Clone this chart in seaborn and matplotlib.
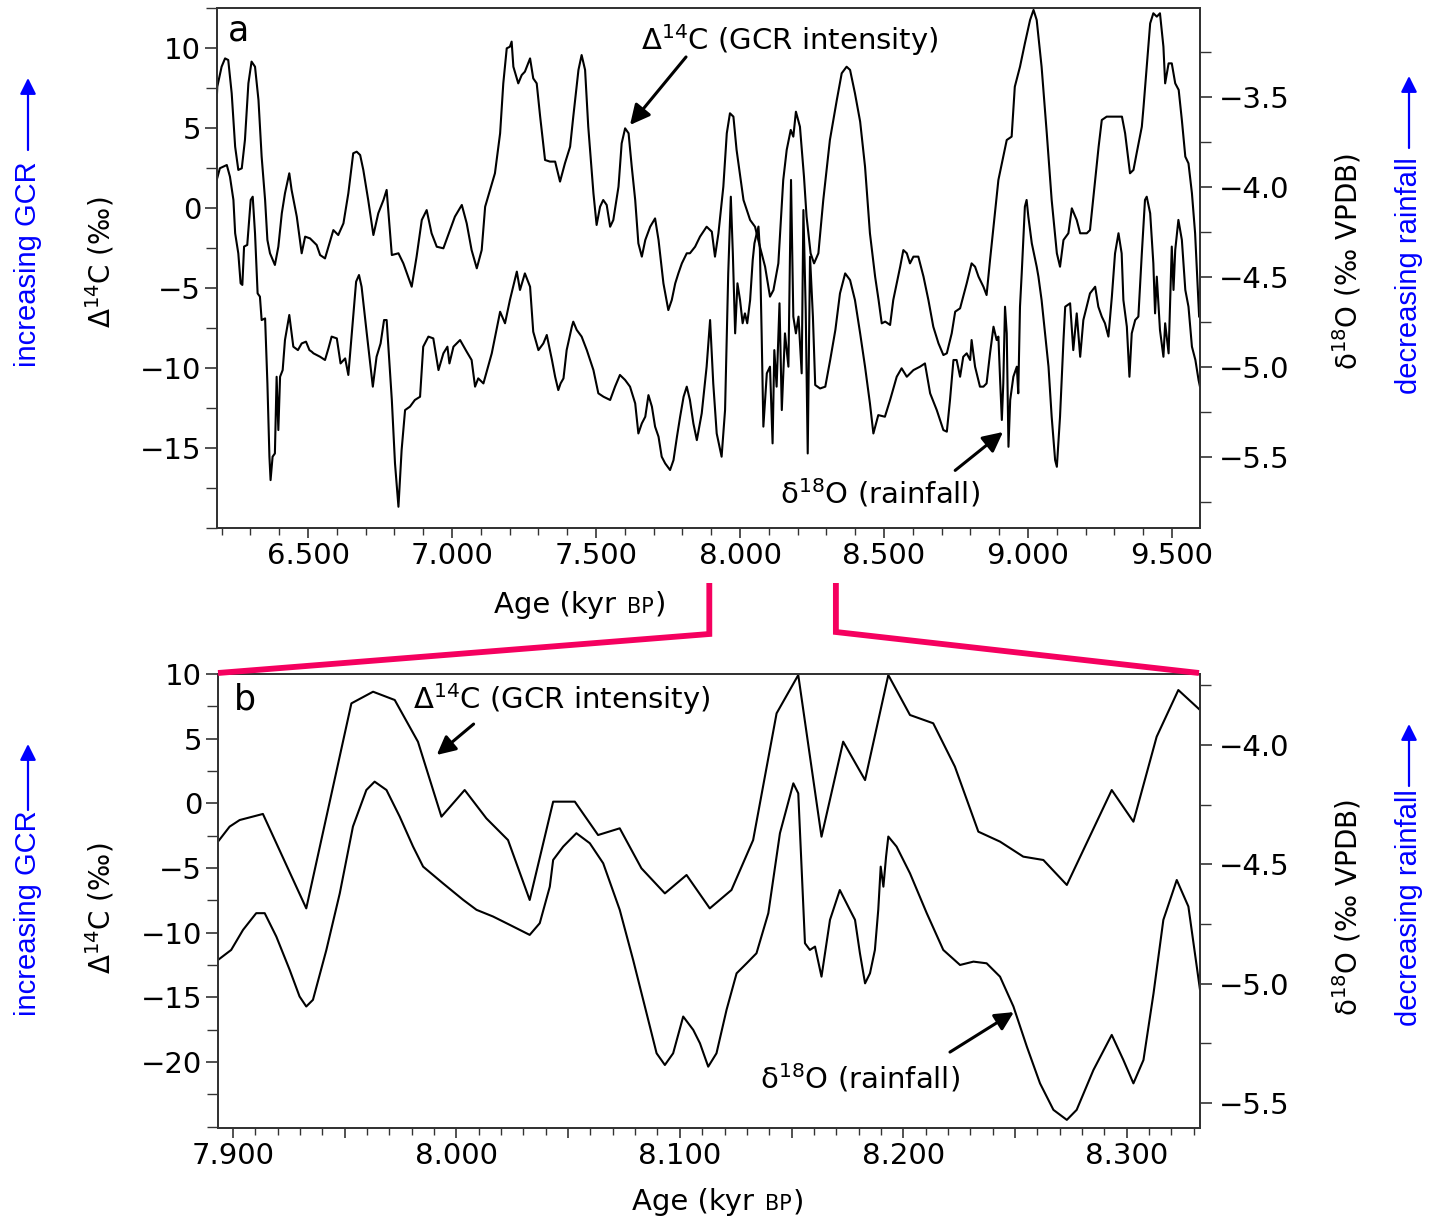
import matplotlib
matplotlib.use("Agg")
import matplotlib.pyplot as plt
import matplotlib.patches as mpatches
import pandas as pd
import seaborn as sns
from matplotlib.ticker import MultipleLocator, FixedLocator, FuncFormatter
from matplotlib.offsetbox import TextArea, HPacker, AnchoredOffsetbox
from matplotlib.lines import Line2D

# ---------------- panel a : 6.2 - 9.6 kyr BP ----------------
age_a_c14 = [6.183, 6.185, 6.200, 6.212, 6.223, 6.235, 6.247, 6.258, 6.270, 6.281, 6.293, 6.304, 6.316, 6.328, 6.339,
             6.351, 6.359, 6.368, 6.385, 6.397, 6.409, 6.420, 6.435, 6.443, 6.461, 6.478, 6.490, 6.507, 6.530, 6.542,
             6.559, 6.571, 6.588, 6.605, 6.623, 6.640, 6.657, 6.669, 6.681, 6.692, 6.709, 6.727, 6.744, 6.762, 6.773,
             6.791, 6.814, 6.831, 6.860, 6.877, 6.895, 6.912, 6.929, 6.947, 6.970, 6.993, 7.010, 7.034, 7.051, 7.068,
             7.086, 7.103, 7.115, 7.132, 7.149, 7.167, 7.178, 7.190, 7.201, 7.207, 7.213, 7.230, 7.242, 7.253, 7.271,
             7.282, 7.294, 7.306, 7.323, 7.340,
             7.358, 7.375, 7.392, 7.410, 7.421, 7.439, 7.450, 7.462, 7.473, 7.491, 7.502, 7.514, 7.525, 7.537, 7.549,
             7.560, 7.578, 7.589, 7.601, 7.613, 7.624, 7.636, 7.647, 7.659, 7.671, 7.688, 7.705, 7.717, 7.734, 7.751,
             7.763, 7.775, 7.786, 7.798, 7.815, 7.826, 7.844, 7.861, 7.884, 7.902, 7.913, 7.925, 7.942, 7.954, 7.965,
             7.977, 7.988, 8.012, 8.035, 8.052, 8.069, 8.087, 8.104, 8.116, 8.133, 8.150, 8.162, 8.176, 8.185, 8.194,
             8.208, 8.222, 8.231, 8.245, 8.257, 8.272, 8.289, 8.312, 8.336, 8.353, 8.370, 8.382, 8.399, 8.417,
             8.434, 8.451, 8.469, 8.481, 8.492, 8.504, 8.521, 8.532, 8.544, 8.556, 8.567, 8.579, 8.590, 8.602, 8.619,
             8.637, 8.654, 8.671, 8.689, 8.706, 8.718, 8.735, 8.747, 8.764, 8.787, 8.804, 8.816, 8.828, 8.845, 8.856,
             8.868, 8.885, 8.897, 8.914, 8.926, 8.943, 8.954, 8.972, 8.989, 9.007, 9.019, 9.030, 9.047, 9.065, 9.082,
             9.100, 9.111, 9.123, 9.140, 9.152, 9.169, 9.181, 9.204, 9.215, 9.227, 9.245, 9.256, 9.273, 9.297, 9.326,
             9.337, 9.354, 9.366, 9.377, 9.395, 9.401, 9.412, 9.424, 9.435, 9.447, 9.458, 9.470, 9.476, 9.488, 9.499,
             9.511, 9.523, 9.534, 9.546, 9.557, 9.569, 9.580, 9.594]
c14_a = [6.75, 7.58, 8.83, 9.35, 9.25, 7.17, 3.83, 2.38, 2.48, 4.25, 7.79, 9.15, 8.83, 6.75, 3.21,
         0.5, -2.0, -2.83, -3.56, -2.42, -0.33, 0.92, 2.17, 1.13, -0.54, -2.83, -1.79, -1.9, -2.31, -2.94,
         -3.15, -2.42, -1.38, -1.69, -0.96, 0.92, 3.42, 3.52, 3.31, 2.38, 0.5, -1.69, -0.33, 0.5, 1.13,
         -2.94, -2.83, -3.46, -4.92, -3.04, -0.75, -0.13, -1.58, -2.42, -2.52, -1.38, -0.54, 0.19, -0.96, -2.63,
         -3.77, -2.63, 0.08, 1.13, 2.17, 4.67, 7.79, 9.98, 10.08, 10.4, 8.83, 7.79, 8.31, 8.52, 9.35,
         8.1, 7.79, 5.71, 3.0, 2.9,
         2.90, 1.65, 2.79, 3.83, 5.71, 8.63, 9.56, 8.63, 5.08, 0.92, -1.06, 0.08, 0.5, 0.19, -1.17,
         -0.75, 1.33, 4.04, 4.98, 4.67, 2.58, 0.5, -2.21, -3.04, -2.0, -1.17, -0.65, -2.0, -4.71, -6.38,
         -5.75, -4.71, -4.08, -3.46, -2.83, -2.83, -2.42, -1.79, -1.17, -1.48, -3.04, -1.58, 1.33, 4.67, 5.92,
         5.71, 3.63, 0.5, -0.75, -1.17, -2.42, -3.67, -5.54, -5.13, -3.46, 1.75, 3.63, 4.88, 4.46, 6.02,
         5.08, 1.96, -0.54, -2.83, -3.46, -2.83, 0.5, 4.25, 6.75, 8.42, 8.83, 8.63, 7.17, 5.4,
         2.58, -1.58, -4.29, -5.75, -7.21, -7.10, -7.31, -5.75, -4.71, -3.67, -2.63, -2.83, -3.46, -3.04, -3.04,
         -4.29, -5.75, -7.42, -8.46, -9.19, -9.08, -7.83, -6.48, -6.27, -4.71, -3.46, -3.67, -4.29, -4.92, -5.44,
         -3.25, -0.33, 1.75, 3.21, 4.25, 4.46, 7.58, 8.83, 10.29, 11.75, 12.38, 11.75, 8.83, 4.67, 0.5,
         -2.83, -3.67, -2.0, -1.58, -0.02, -0.75, -1.58, -1.58, -1.38, 0.71, 3.83, 5.5, 5.71, 5.71, 5.71,
         4.67, 2.17, 2.38, 3.42, 5.08, 6.33, 8.83, 11.54, 12.17, 11.96, 12.17, 10.08, 7.79, 9.04, 9.04,
         7.79, 7.38, 5.5, 3.21, 2.79, 0.92, -1.58, -6.8]

age_a_o18 = [6.183, 6.194, 6.218, 6.229, 6.241, 6.247, 6.258, 6.266, 6.272, 6.278, 6.289, 6.301, 6.308, 6.316, 6.325,
             6.333, 6.339, 6.351, 6.359, 6.366, 6.370, 6.377, 6.385, 6.391, 6.397, 6.403, 6.412, 6.420, 6.435, 6.449,
             6.465, 6.478, 6.493, 6.505, 6.513, 6.519, 6.542, 6.559, 6.571, 6.582, 6.600, 6.613, 6.629, 6.640, 6.652,
             6.667, 6.677, 6.686, 6.704, 6.725, 6.738, 6.752, 6.764, 6.773, 6.791, 6.802, 6.814, 6.825, 6.837, 6.854,
             6.871, 6.889, 6.900, 6.918, 6.935, 6.953, 6.970, 6.984, 6.991, 7.005, 7.028, 7.051, 7.068, 7.080, 7.091,
             7.109, 7.138, 7.167, 7.184, 7.201, 7.225, 7.236, 7.253, 7.271, 7.282, 7.300,
             7.317, 7.329, 7.347, 7.358, 7.369, 7.377, 7.387, 7.398, 7.416, 7.421, 7.433, 7.450, 7.468, 7.491, 7.508,
             7.526, 7.549, 7.566, 7.583, 7.601, 7.618, 7.636, 7.647, 7.659, 7.671, 7.682, 7.694, 7.705, 7.717, 7.728,
             7.740, 7.757, 7.769, 7.781, 7.792, 7.804, 7.815, 7.826, 7.838, 7.850, 7.867, 7.884, 7.896, 7.907, 7.919,
             7.936, 7.948, 7.959, 7.968, 7.975, 7.983, 7.991, 8.000, 8.009, 8.017, 8.025, 8.035, 8.044, 8.050, 8.058,
             8.064, 8.069, 8.075, 8.081, 8.093, 8.104, 8.113, 8.119, 8.127, 8.137, 8.145, 8.156, 8.168, 8.177, 8.185,
             8.194, 8.203, 8.214, 8.220, 8.228, 8.235, 8.243, 8.253, 8.261, 8.278, 8.296, 8.313, 8.331, 8.347, 8.365,
             8.382, 8.399, 8.417, 8.434, 8.451,
             8.463, 8.480, 8.503, 8.521, 8.544, 8.561, 8.579, 8.602, 8.625, 8.642, 8.660, 8.683, 8.706, 8.718, 8.729,
             8.741, 8.752, 8.764, 8.775, 8.787, 8.799, 8.804, 8.816, 8.833, 8.845, 8.856, 8.868, 8.880, 8.891, 8.897,
             8.903, 8.909, 8.914, 8.920, 8.926, 8.932, 8.938, 8.949, 8.961, 8.966, 8.972, 8.978, 8.989, 8.995, 9.001,
             9.013, 9.030, 9.036, 9.047, 9.059, 9.071, 9.082, 9.094, 9.100, 9.111, 9.123, 9.129, 9.146, 9.157, 9.169,
             9.181, 9.192, 9.215, 9.233, 9.244, 9.256, 9.267, 9.279, 9.291, 9.302, 9.314, 9.325, 9.331, 9.343, 9.352,
             9.360, 9.372, 9.383, 9.395, 9.406, 9.412, 9.424, 9.435, 9.441, 9.447, 9.458, 9.470, 9.476, 9.488, 9.499,
             9.505, 9.511, 9.522, 9.534, 9.546, 9.557, 9.569, 9.581, 9.592, 9.597]
o18_a = [-3.961, -3.896, -3.878, -3.943, -4.072, -4.257, -4.369, -4.535, -4.544, -4.331, -4.322, -4.072, -4.054, -4.257, -4.591,
         -4.609, -4.739, -4.730, -5.091, -5.498, -5.628, -5.498, -5.480, -5.054, -5.35, -5.054, -5.017, -4.85, -4.711, -4.887,
         -4.906, -4.869, -4.859, -4.906, -4.915, -4.924, -4.943, -4.961, -4.896, -4.831, -4.841, -4.980, -4.952, -5.044, -4.813,
         -4.526, -4.489, -4.554, -4.813, -5.109, -4.943, -4.869, -4.739, -4.739, -5.183, -5.535, -5.776, -5.461, -5.239, -5.220,
         -5.183, -5.165, -4.887, -4.831, -4.841, -5.017, -4.924, -4.887, -4.980, -4.887, -4.85, -4.915, -4.961, -5.109, -5.063,
         -5.091, -4.924, -4.693, -4.757, -4.628, -4.470, -4.572, -4.480, -4.554, -4.804, -4.906,
         -4.869, -4.822, -4.961, -5.054, -5.128, -5.091, -5.063, -4.906, -4.776, -4.748, -4.794, -4.831, -4.906, -5.017, -5.146,
         -5.165, -5.183, -5.109, -5.044, -5.072, -5.109, -5.202, -5.369, -5.313, -5.276, -5.156, -5.220, -5.331, -5.387, -5.498,
         -5.535, -5.572, -5.517, -5.387, -5.276, -5.165, -5.109, -5.183, -5.313, -5.406, -5.257, -4.998, -4.739, -5.091, -5.369,
         -5.498, -5.239, -4.480, -4.054, -4.369, -4.813, -4.535, -4.628, -4.757, -4.702, -4.757, -4.628, -4.406, -4.313, -4.257,
         -4.220, -4.350, -4.813, -5.331, -5.035, -4.998, -5.424, -4.906, -5.109, -4.646, -5.239, -4.813, -4.998, -3.961, -4.720,
         -4.813, -4.720, -5.035, -4.128, -4.683, -5.480, -4.387, -4.720, -5.100, -5.119, -5.109, -4.961, -4.794, -4.591, -4.480,
         -4.517, -4.628, -4.813, -4.998, -5.202,
         -5.369, -5.267, -5.276, -5.183, -5.054, -5.007, -5.054, -5.017, -4.998, -4.980, -5.146, -5.239, -5.35, -5.359, -5.183,
         -4.961, -4.961, -5.054, -4.943, -4.924, -4.961, -4.85, -4.998, -5.109, -5.109, -5.091, -4.924, -4.776, -4.85, -4.831,
         -5.072, -5.294, -5.091, -4.665, -4.813, -5.443, -5.183, -5.054, -4.998, -5.146, -4.665, -4.48, -4.109, -4.072, -4.165,
         -4.313, -4.443, -4.498, -4.628, -4.813, -4.998, -5.276, -5.517, -5.554, -5.276, -4.85, -4.665, -4.646, -4.906, -4.702,
         -4.943, -4.739, -4.591, -4.554, -4.665, -4.72, -4.757, -4.831, -4.609, -4.369, -4.257, -4.369, -4.628, -4.776, -5.054,
         -4.813, -4.739, -4.72, -4.369, -4.072, -4.054, -4.146, -4.424, -4.702, -4.498, -4.794, -4.943, -4.757, -4.924, -4.331,
         -4.572, -4.35, -4.183, -4.294, -4.572, -4.665, -4.887, -4.961, -5.072, -5.11]

# ---------------- panel b : 7.89 - 8.33 kyr BP ----------------
age_b_c14 = [7.8933, 7.8985, 7.9030, 7.9134, 7.9328, 7.9530, 7.9627, 7.9724, 7.9828, 7.9933, 8.0037, 8.0134, 8.0231,
             8.0328, 8.0433, 8.0530, 8.0634, 8.0731, 8.0828, 8.0933, 8.1030, 8.1134, 8.1231, 8.1328, 8.1433, 8.1530,
             8.1634, 8.1731, 8.1829, 8.1933, 8.2030, 8.2134, 8.2231, 8.2336, 8.2433, 8.2537, 8.2627, 8.2732, 8.2933,
             8.3030, 8.3134, 8.3231, 8.3328]
c14_b = [-2.96, -1.80, -1.29, -0.82, -8.12, 7.73, 8.63, 7.99, 4.76, -1.03, 1.03, -1.16, -2.84,
         -7.47, 0.13, 0.13, -2.45, -1.93, -5.02, -6.96, -5.54, -8.12, -6.70, -2.84, 6.96, 9.92,
         -2.58, 4.77, 1.80, 9.92, 6.83, 6.19, 2.84, -2.19, -2.96, -4.12, -4.38, -6.31, 1.03,
         -1.42, 5.15, 8.76, 7.22]

age_b_o18 = [7.8933, 7.8992, 7.9045, 7.9104, 7.9142, 7.9194, 7.9254, 7.9298, 7.9328, 7.9358, 7.9418, 7.9478, 7.9537,
             7.9597, 7.9634, 7.9687, 7.9746, 7.9806, 7.9851, 7.9940, 8.0030, 8.0090, 8.0164, 8.0239, 8.0328, 8.0373,
             8.0418,
             8.0433, 8.0478, 8.0537, 8.0597, 8.0657, 8.0731, 8.0791, 8.0851, 8.0896, 8.0933, 8.0970, 8.1015, 8.1060,
             8.1090, 8.1127, 8.1164, 8.1209, 8.1254, 8.1299, 8.1343, 8.1396, 8.1448, 8.1508, 8.1530, 8.1560, 8.1582,
             8.1605, 8.1634, 8.1672, 8.1716, 8.1761, 8.1784, 8.1806,
             8.1829, 8.1851, 8.1873, 8.1888, 8.1899, 8.1911, 8.1923, 8.1933, 8.1970, 8.2030, 8.2105, 8.2179, 8.2254,
             8.2314, 8.2373, 8.2433, 8.2493, 8.2553, 8.2612, 8.2672, 8.2732, 8.2776, 8.2851, 8.2933, 8.2985, 8.3030,
             8.3075, 8.3120, 8.3164, 8.3224, 8.3276, 8.3328]
o18_b = [-4.901, -4.859, -4.775, -4.705, -4.705, -4.803, -4.943, -5.054, -5.096, -5.068, -4.859, -4.622, -4.342,
         -4.189, -4.154, -4.189, -4.300, -4.426, -4.510, -4.580, -4.649, -4.691, -4.719, -4.754, -4.796, -4.747,
         -4.594,
         -4.482, -4.426, -4.370, -4.412, -4.496, -4.691, -4.901, -5.124, -5.292, -5.341, -5.292, -5.138, -5.194,
         -5.250, -5.348, -5.292, -5.110, -4.957, -4.915, -4.873, -4.705, -4.370, -4.161, -4.203, -4.831, -4.859,
         -4.845, -4.971, -4.733, -4.608, -4.691, -4.733, -4.873,
         -4.999, -4.957, -4.859, -4.691, -4.510, -4.594, -4.468, -4.384, -4.426, -4.538, -4.705, -4.859, -4.922,
         -4.908, -4.915, -4.971, -5.096, -5.264, -5.418, -5.529, -5.571, -5.529, -5.362, -5.215, -5.320, -5.418,
         -5.320, -5.041, -4.733, -4.566, -4.677, -5.026]

# axis ranges and labelled ticks
xlim_a = (6.184, 9.597)
ylim_a_c14 = (-20.0, 12.5)
ylim_a_o18 = (-5.894, -3.006)
yticks_a_c14 = [-15, -10, -5, 0, 5, 10]
xlim_b = (7.8933, 8.3328)
ylim_b_c14 = (-25.1, 10.0)
ylim_b_o18 = (-5.605, -3.703)
yticks_b_c14 = [-20, -15, -10, -5, 0, 5, 10]

PINK = "#f5005f"
BLUE = "#0000ff"
TICK_FS = 21

sns.set_style("ticks")
plt.rcParams.update({
    "font.family": ["DejaVu Sans"],
    "text.color": "black",
    "axes.labelcolor": "black",
    "axes.linewidth": 1.3,
    "axes.edgecolor": "#333333",
    "xtick.color": "#333333",
    "ytick.color": "#333333",
    "xtick.labelcolor": "black",
    "ytick.labelcolor": "black",
    "xtick.direction": "out",
    "ytick.direction": "out",
})

W, H = 1433, 1219
fig = plt.figure(figsize=(W / 100, H / 100), dpi=100)
fig.patch.set_facecolor("white")


def rect(left, top, right, bottom):
    return [left / W, 1 - bottom / H, (right - left) / W, (bottom - top) / H]


def ftext(x, y, s, **kw):
    fig.text(x / W, 1 - y / H, s, **kw)


ax_a = fig.add_axes(rect(217, 8, 1200, 528))
ax_b = fig.add_axes(rect(218, 674, 1200, 1128))
ax_a2 = ax_a.twinx()
ax_b2 = ax_b.twinx()

line_kw = dict(color="black", lw=1.5, estimator=None, sort=False, legend=False)
df_a_c = pd.DataFrame({"age": age_a_c14, "val": c14_a})
df_a_o = pd.DataFrame({"age": age_a_o18, "val": o18_a})
df_b_c = pd.DataFrame({"age": age_b_c14, "val": c14_b})
df_b_o = pd.DataFrame({"age": age_b_o18, "val": o18_b})
sns.lineplot(data=df_a_c, x="age", y="val", ax=ax_a, **line_kw)
sns.lineplot(data=df_a_o, x="age", y="val", ax=ax_a2, **line_kw)
sns.lineplot(data=df_b_c, x="age", y="val", ax=ax_b, **line_kw)
sns.lineplot(data=df_b_o, x="age", y="val", ax=ax_b2, **line_kw)

for ax in (ax_a, ax_a2, ax_b, ax_b2):
    ax.set_xlabel("")
    ax.set_ylabel("")
    for sp in ax.spines.values():
        sp.set_visible(True)
        sp.set_color("#333333")
        sp.set_linewidth(1.3)


def minus(s):
    return s.replace("-", "\u2212")


# panel a axes
ax_a.set_xlim(*xlim_a)
ax_a.set_ylim(*ylim_a_c14)
ax_a2.set_ylim(*ylim_a_o18)
ax_a.xaxis.set_major_locator(MultipleLocator(0.5))
ax_a.xaxis.set_minor_locator(MultipleLocator(0.1))
ax_a.xaxis.set_major_formatter(FuncFormatter(lambda v, p: f"{v:.3f}"))
ax_a.yaxis.set_major_locator(FixedLocator(yticks_a_c14))
ax_a.yaxis.set_minor_locator(MultipleLocator(2.5))
ax_a.yaxis.set_major_formatter(FuncFormatter(lambda v, p: minus(f"{v:.0f}")))
ax_a2.yaxis.set_major_locator(MultipleLocator(0.5))
ax_a2.yaxis.set_minor_locator(MultipleLocator(0.25))
ax_a2.yaxis.set_major_formatter(FuncFormatter(lambda v, p: minus(f"{v:.1f}")))

# panel b axes
ax_b.set_xlim(*xlim_b)
ax_b.set_ylim(*ylim_b_c14)
ax_b2.set_ylim(*ylim_b_o18)
ax_b.xaxis.set_major_locator(MultipleLocator(0.05))
ax_b.xaxis.set_minor_locator(MultipleLocator(0.01))
ax_b.xaxis.set_major_formatter(
    FuncFormatter(lambda v, p: f"{v:.3f}" if abs(v * 10 - round(v * 10)) < 1e-6 else ""))
ax_b.yaxis.set_major_locator(FixedLocator(yticks_b_c14))
ax_b.yaxis.set_minor_locator(MultipleLocator(2.5))
ax_b.yaxis.set_major_formatter(FuncFormatter(lambda v, p: minus(f"{v:.0f}")))
ax_b2.yaxis.set_major_locator(MultipleLocator(0.5))
ax_b2.yaxis.set_minor_locator(MultipleLocator(0.25))
ax_b2.yaxis.set_major_formatter(FuncFormatter(lambda v, p: minus(f"{v:.1f}")))

for ax in (ax_a, ax_b):
    ax.tick_params(axis="x", which="major", length=7, width=1.2, labelsize=TICK_FS, pad=3, top=False)
    ax.tick_params(axis="x", which="minor", length=5, width=1.0, top=False)
    ax.tick_params(axis="y", which="major", length=8.5, width=1.2, labelsize=TICK_FS, pad=3)
    ax.tick_params(axis="y", which="minor", length=8.0, width=1.0)
for ax in (ax_a2, ax_b2):
    ax.tick_params(axis="y", which="major", length=8.5, width=1.2, labelsize=TICK_FS, pad=5)
    ax.tick_params(axis="y", which="minor", length=8.0, width=1.0)

# panel letters and curve labels
C14_TXT = "\u0394$^{14}$C (GCR intensity)"
O18_TXT = "\u03b4$^{18}$O (rainfall)"
arrow_kw = dict(arrowstyle="-|>", color="black", lw=2.2, shrinkA=0, shrinkB=0)

ax_a.text(6.257, 11.1, "a", size=25, ha="center", va="center")
ax_a.text(7.656, 10.5, C14_TXT, size=TICK_FS, ha="left", va="center")
ax_a.annotate("", xy=(7.618, 5.19), xytext=(7.8125, 9.44), arrowprops=dict(mutation_scale=30, **arrow_kw))
ax_a.text(8.139, -17.8, O18_TXT, size=TICK_FS, ha="left", va="center")
ax_a.annotate("", xy=(8.913, -14.0), xytext=(8.747, -16.4), arrowprops=dict(mutation_scale=30, **arrow_kw))

ax_b.text(7.9053, 8.0, "b", size=25, ha="center", va="center")
ax_b.text(7.9804, 8.07, C14_TXT, size=TICK_FS, ha="left", va="center")
ax_b.annotate("", xy=(7.9912, 3.74), xytext=(8.0077, 6.13), arrowprops=dict(mutation_scale=28, **arrow_kw))
ax_b.text(8.1358, -21.25, O18_TXT, size=TICK_FS, ha="left", va="center")
ax_b.annotate("", xy=(8.2495, -16.14), xytext=(8.2209, -19.23), arrowprops=dict(mutation_scale=28, **arrow_kw))

# axis titles and direction hints
side_font = ["Liberation Sans", "DejaVu Sans"]
side_rows = [
    # (y of left titles, gcr text centre, gcr arrow from/to, rain text centre, rain arrow from/to)
    (262, 264, 150, 78, 276, 148, 76),
    (908, 913, 810, 744, 908, 786, 724),
]
for y_title, y_gcr, g0, g1, y_rain, r0, r1 in side_rows:
    ftext(100, y_title, "\u0394$^{14}$C (\u2030)", rotation=90, size=20, ha="center", va="center")
    ftext(1347, y_title, "\u03b4$^{18}$O (\u2030 VPDB)", rotation=90, size=20, ha="center", va="center")
    ftext(28, y_gcr, "increasing GCR", rotation=90, size=21, color=BLUE,
          ha="center", va="center", family=side_font)
    ftext(1409, y_rain, "decreasing rainfall", rotation=90, size=21, color=BLUE,
          ha="center", va="center", family=side_font)
    for xa, a0, a1 in ((28, g0, g1), (1409, r0, r1)):
        fig.add_artist(mpatches.FancyArrowPatch(
            (xa / W, 1 - a0 / H), (xa / W, 1 - a1 / H), transform=fig.transFigure,
            arrowstyle="-|>", color=BLUE, lw=1.6, mutation_scale=24, shrinkA=0, shrinkB=0))


def age_label(xc, yc):
    parts = [TextArea("Age (kyr\u00a0", textprops=dict(size=TICK_FS)),
             TextArea("BP", textprops=dict(size=15)),
             TextArea(")", textprops=dict(size=TICK_FS))]
    box = HPacker(children=parts, align="baseline", pad=0, sep=1)
    anchored = AnchoredOffsetbox(loc="center", child=box, pad=0, borderpad=0, frameon=False,
                                 bbox_to_anchor=(xc / W, 1 - yc / H), bbox_transform=fig.transFigure)
    fig.add_artist(anchored)


age_label(580, 605)
age_label(718, 1202)


# zoom connector between the panels
def a_x_to_px(v):
    return 217 + (v - xlim_a[0]) / (xlim_a[1] - xlim_a[0]) * (1200 - 217)


for xv, x_end, y_knee in ((xlim_b[0], 218, 634), (xlim_b[1], 1199, 632)):
    px = a_x_to_px(xv)
    xs = [px / W, px / W, x_end / W]
    ys = [1 - 583 / H, 1 - y_knee / H, 1 - 673 / H]
    fig.add_artist(Line2D(xs, ys, transform=fig.transFigure, color=PINK, lw=4.2,
                          solid_joinstyle="miter", solid_capstyle="butt"))

fig.savefig("out.png", dpi=100, facecolor="white")
